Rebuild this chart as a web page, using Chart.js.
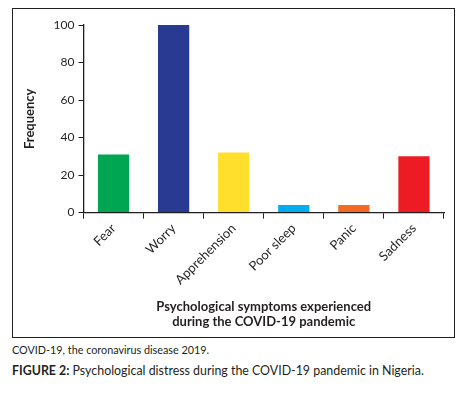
<!DOCTYPE html>
<html>
<head>
<meta charset="utf-8">
<script src="https://cdn.jsdelivr.net/npm/chart.js@4/dist/chart.umd.min.js"></script>
<style>
  body { margin: 0; background: #fff; font-family: Lato, "Noto Sans", sans-serif; color: #231f20; }
  #frame { position: absolute; left: 12px; top: 8px; width: 441px; height: 328px; border: 1px solid #231f20; }
  #frame canvas { display: block; }
  #note { position: absolute; left: 12px; top: 343px; font-size: 10.8px; }
  #caption { position: absolute; left: 12px; top: 363px; font-size: 12.4px; }
  #caption b { font-weight: 700; }
</style>
</head>
<body>
<div id="frame"><canvas id="chart" width="441" height="328"></canvas></div>
<div id="note">COVID-19, the coronavirus disease 2019.</div>
<div id="caption"><b>FIGURE 2:</b> Psychological distress during the COVID-19 pandemic in Nigeria.</div>
<script>
// symptom categories and their counts
const symptoms = ['Fear', 'Worry', 'Apprehension', 'Poor sleep', 'Panic', 'Sadness'];
const frequency = [31, 100, 32, 4, 4, 30];
const barColors = ['#00a651', '#283a92', '#ffde2c', '#00aeef', '#f26a23', '#ed1c24'];
const yTicks = [0, 20, 40, 60, 80, 100];

const ink = '#231f20';

new Chart(document.getElementById('chart'), {
    type: 'bar',
    data: {
        labels: symptoms,
        datasets: [{
            data: frequency,
            backgroundColor: barColors,
            borderWidth: 0,
            categoryPercentage: 1,
            barPercentage: 0.52
        }]
    },
    options: {
        responsive: false,
        animation: false,
        layout: { padding: { top: 16, right: 10, bottom: 7, left: 9 } },
        plugins: {
            legend: { display: false },
            tooltip: { enabled: false }
        },
        scales: {
            x: {
                offset: true,
                grid: {
                    display: true,
                    offset: true,
                    drawOnChartArea: false,
                    tickLength: 6,
                    color: ink,
                    lineWidth: 1
                },
                border: { color: ink, width: 1.3 },
                ticks: {
                    color: ink,
                    font: { family: 'Lato', size: 13 },
                    minRotation: 45,
                    maxRotation: 45,
                    padding: 2
                },
                title: {
                    display: true,
                    text: ['Psychological symptoms experienced', 'during the COVID-19 pandemic'],
                    color: ink,
                    font: { family: 'Lato', size: 13, weight: 'bold' },
                    padding: { top: 9, bottom: 0 }
                }
            },
            y: {
                min: 0,
                max: 100,
                afterBuildTicks: axis => { axis.ticks = yTicks.map(v => ({ value: v })); },
                grid: {
                    display: true,
                    drawOnChartArea: false,
                    tickLength: 5,
                    color: ink
                },
                border: { color: ink, width: 1.3 },
                ticks: {
                    color: ink,
                    font: { family: 'Lato', size: 12 },
                    padding: 4
                },
                title: {
                    display: true,
                    text: 'Frequency',
                    color: ink,
                    font: { family: 'Lato', size: 13, weight: 'bold' },
                    padding: { top: 0, bottom: 12 }
                }
            }
        }
    }
});
</script>
</body>
</html>
